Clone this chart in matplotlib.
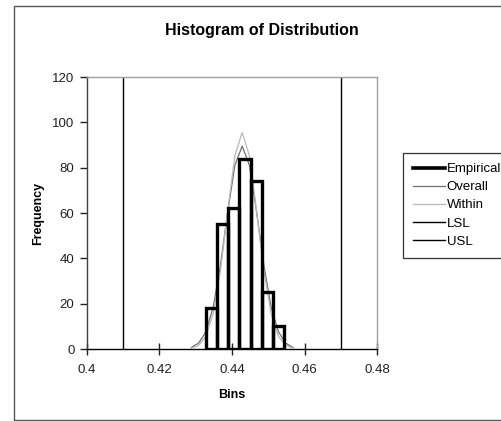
#!/usr/bin/env python3
"""Histogram of Distribution: empirical bins with fitted normal curves and spec limits."""

import matplotlib
matplotlib.use("Agg")
import matplotlib.pyplot as plt
from matplotlib.patches import Rectangle
from matplotlib.lines import Line2D

plt.rcParams["font.family"] = ["Liberation Sans", "DejaVu Sans"]

# empirical histogram
bin_centers = [0.4343, 0.4374, 0.4405, 0.4436, 0.4467, 0.4498, 0.4529]
bin_counts = [18, 55, 62, 84, 74, 25, 10]
bin_width = 0.0031

# fitted normal curves
curve_x = [0.4288, 0.4308, 0.4328, 0.4348, 0.4368, 0.4388, 0.4408, 0.4428,
           0.4448, 0.4468, 0.4488, 0.4508, 0.4528, 0.4548, 0.4568]
overall_y = [0.7, 2.6, 7.6, 18.4, 36.8, 60.3, 81.1, 89.5,
             81.1, 60.3, 36.8, 18.4, 7.6, 2.6, 0.7]
within_y = [0.4, 1.6, 5.6, 15.6, 34.4, 60.7, 85.3, 95.5,
            85.3, 60.7, 34.4, 15.6, 5.6, 1.6, 0.4]

lsl = 0.41
usl = 0.47

x_ticks = [0.4, 0.42, 0.44, 0.46, 0.48]
y_ticks = [0, 20, 40, 60, 80, 100, 120]


def main():
    fig = plt.figure(figsize=(5.02, 4.21), dpi=100)
    W, H = 502, 421

    # outer chart border
    fig.patches.append(Rectangle((14 / W, 1 - 420 / H), 500 / W, (420 - 6) / H,
                                 transform=fig.transFigure, fill=False,
                                 edgecolor="#555555", linewidth=1.0))

    ax = fig.add_axes([87 / W, 1 - 349 / H, 290 / W, 272 / H])

    ax.plot(curve_x, overall_y, color="#707070", linewidth=0.9, zorder=2)
    ax.plot(curve_x, within_y, color="#b8b8b8", linewidth=0.9, zorder=2)
    ax.bar(bin_centers, bin_counts, width=bin_width, facecolor="none",
           edgecolor="black", linewidth=2.4, zorder=3)
    ax.axvline(lsl, color="black", linewidth=1.0, zorder=2)
    ax.axvline(usl, color="black", linewidth=1.0, zorder=2)

    ax.set_xlim(0.4, 0.48)
    ax.set_ylim(0, 120)
    ax.set_xticks(x_ticks)
    ax.set_xticklabels([f"{v:g}" for v in x_ticks])
    ax.set_yticks(y_ticks)

    ax.spines["top"].set_color("#a0a0a0")
    ax.spines["right"].set_color("#a0a0a0")
    ax.spines["left"].set_color("#404040")
    ax.spines["bottom"].set_color("black")
    for sp in ax.spines.values():
        sp.set_linewidth(1.0)

    ax.tick_params(axis="x", direction="inout", length=8, width=1,
                   labelsize=9.5, pad=7, colors="#222222")
    ax.tick_params(axis="y", direction="out", length=5, width=1,
                   labelsize=9.5, pad=4, colors="#222222")

    ax.set_xlabel("Bins", fontsize=9, fontweight="bold", labelpad=9)
    ax.set_ylabel("Frequency", fontsize=9, fontweight="bold", labelpad=6)

    fig.text(262 / W, 1 - 30 / H, "Histogram of Distribution", ha="center",
             va="center", fontsize=11.5, fontweight="bold")

    handles = [
        Line2D([], [], color="black", linewidth=2.6),
        Line2D([], [], color="#707070", linewidth=0.9),
        Line2D([], [], color="#b8b8b8", linewidth=0.9),
        Line2D([], [], color="black", linewidth=1.0),
        Line2D([], [], color="black", linewidth=1.0),
    ]
    labels = ["Empirical", "Overall", "Within", "LSL", "USL"]
    leg = fig.legend(handles, labels, loc="upper left",
                     bbox_to_anchor=(403 / W, 1 - 153 / H),
                     bbox_transform=fig.transFigure, fontsize=9.5,
                     frameon=True, fancybox=False, shadow=False,
                     handlelength=2.4, handletextpad=0.15,
                     labelspacing=0.45, borderpad=0.75, borderaxespad=0)
    leg.get_frame().set_edgecolor("black")
    leg.get_frame().set_linewidth(0.9)

    fig.savefig("out.png", dpi=100)


if __name__ == "__main__":
    main()
